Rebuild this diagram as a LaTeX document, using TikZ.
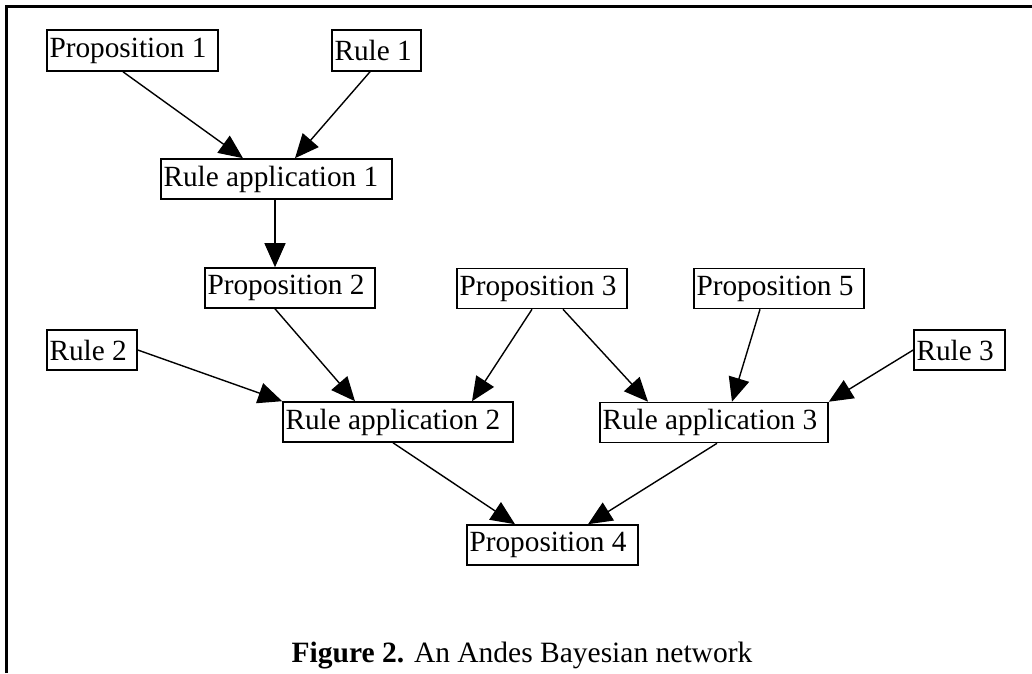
\documentclass[tikz,border=0pt]{standalone}
\usepackage{fontspec}
\setmainfont{Liberation Serif}
\usetikzlibrary{arrows.meta}
\newcommand\lbox[2]{\makebox[#1][l]{#2}}
\begin{document}
\begin{tikzpicture}[x=1pt,y=-1pt,
  box/.style={draw, line width=1.6pt, inner ysep=0pt, inner xsep=2.5pt, minimum height=40pt,
    font=\fontsize{29.3}{34}\selectfont},
  arr/.style={line width=1.4pt, -{Triangle[length=24pt,width=21pt]}},
  frame/.style={line width=2.2pt}]
\useasboundingbox (0,0) rectangle (1032,673);
\fill[white] (0,0) rectangle (1032,673);
\coordinate (fa) at (6.5,673);
\coordinate (fb) at (6.5,6.5);
\coordinate (fc) at (1032,6.5);
\draw[frame] (fa) -- (fb) -- (fc);

\node[box, minimum height=41pt] (p1) at (132.5,50.5) {\lbox{166pt}{Proposition 1}};
\node[box, minimum height=41pt] (r1) at (376.5,50.5) {\lbox{84pt}{Rule 1}};
\node[box] (ra1) at (276.5,179) {\lbox{226pt}{Rule application 1}};
\node[box] (p2) at (290,288) {\lbox{165pt}{Proposition 2}};
\node[box] (p3) at (542,288.5) {\lbox{165pt}{Proposition 3}};
\node[box] (p5) at (779,288.5) {\lbox{165pt}{Proposition 5}};
\node[box] (r2) at (92,350) {\lbox{85pt}{Rule 2}};
\node[box] (r3) at (959.5,350) {\lbox{86pt}{Rule 3}};
\node[box] (ra2) at (398,422) {\lbox{225pt}{Rule application 2}};
\node[box] (ra3) at (714,422.5) {\lbox{223pt}{Rule application 3}};
\node[box] (p4) at (552.5,545) {\lbox{166pt}{Proposition 4}};

\draw[arr] ([xshift=-9.5pt]p1.south) -- ([xshift=-33.5pt]ra1.north);
\draw[arr] ([xshift=-6.5pt]r1.south) -- ([xshift=18.5pt]ra1.north);
\draw[arr] ([xshift=-1.5pt]ra1.south) -- ([xshift=-15pt]p2.north);
\draw[arr] ([xshift=-15pt]p2.south) -- ([xshift=-43pt]ra2.north);
\draw[arr] ([xshift=-10pt]p3.south) -- ([xshift=74pt]ra2.north);
\draw[arr] ([xshift=21pt]p3.south) -- ([xshift=-66pt]ra3.north);
\draw[arr] ([xshift=-19pt]p5.south) -- ([xshift=18pt]ra3.north);
\draw[arr] (r2.east) -- (ra2.north west);
\draw[arr] (r3.west) -- (ra3.north east);
\draw[arr] ([xshift=-5pt]ra2.south) -- ([xshift=-37.5pt]p4.north);
\draw[arr] ([xshift=3pt]ra3.south) -- ([xshift=35.5pt]p4.north);

\node[anchor=base, inner sep=0pt, font=\fontsize{29.5}{35}\selectfont] (cap) at (522,662)
  {\textbf{Figure 2.} An Andes Bayesian network};
\end{tikzpicture}
\end{document}
